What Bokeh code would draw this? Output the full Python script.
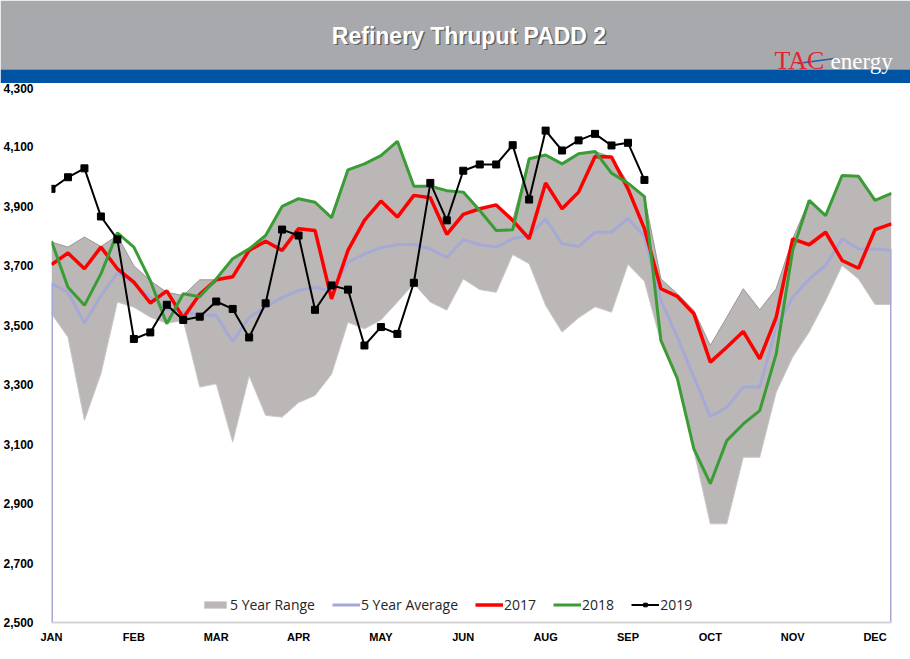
from bokeh.plotting import figure
from bokeh.models import Range1d, FixedTicker, NumeralTickFormatter, Label
from bokeh.layouts import column
from bokeh.embed import file_html
from bokeh.resources import INLINE

# ---------------- data ----------------
weeks = list(range(52))
month_labels = ["JAN", "FEB", "MAR", "APR", "MAY", "JUN", "AUG", "SEP", "OCT", "NOV", "DEC"]
month_ticks = weeks[::5][:11]
y_ticks = list(range(2500, 4301, 200))
Y_MIN, Y_MAX = 2500, 4300

range_upper = [3780, 3763, 3797, 3765, 3802, 3700, 3650, 3611, 3600, 3653,
               3653, 3724, 3757, 3797, 3900, 3926, 3914, 3860, 4020, 4043,
               4071, 4115, 3968, 3968, 3953, 3948, 3892, 3905, 3853, 4060,
               4073, 4043, 4077, 4085, 4066, 3980, 3933, 3656, 3606, 3550,
               3432, 3527, 3623, 3552, 3623, 3791, 3920, 3869, 4004, 4001,
               3920, 3944]
range_lower = [3539, 3460, 3180, 3337, 3578, 3561, 3527, 3507, 3516, 3292,
               3303, 3107, 3330, 3197, 3191, 3240, 3264, 3335, 3510, 3488,
               3518, 3578, 3640, 3578, 3551, 3656, 3620, 3611, 3738, 3707,
               3567, 3477, 3525, 3562, 3544, 3705, 3648, 3443, 3314, 3079,
               2832, 2832, 3056, 3056, 3275, 3393, 3477, 3583, 3701, 3656,
               3570, 3570]
avg_5yr = [3640, 3611, 3507, 3600, 3676, 3640, 3594, 3555, 3544, 3536,
           3533, 3445, 3527, 3561, 3594, 3617, 3628, 3615, 3712, 3740,
           3761, 3772, 3772, 3757, 3728, 3788, 3771, 3763, 3791, 3802,
           3858, 3774, 3765, 3813, 3813, 3860, 3798, 3583, 3460, 3325,
           3193, 3224, 3292, 3292, 3494, 3594, 3656, 3701, 3791, 3757,
           3757, 3752]
y2017 = [3704, 3743, 3690, 3763, 3690, 3645, 3575, 3616, 3525, 3604,
         3653, 3663, 3752, 3783, 3752, 3825, 3819, 3589, 3752, 3853,
         3918, 3864, 3937, 3929, 3806, 3873, 3892, 3905, 3853, 3791,
         3979, 3892, 3948, 4068, 4066, 3959, 3825, 3623, 3597, 3539,
         3376, 3426, 3479, 3387, 3527, 3791, 3771, 3813, 3718, 3692,
         3822, 3841]
y2018 = [3783, 3628, 3567, 3673, 3811, 3763, 3650, 3505, 3606, 3596,
         3656, 3724, 3757, 3802, 3900, 3926, 3914, 3862, 4023, 4043,
         4071, 4119, 3968, 3968, 3953, 3948, 3886, 3819, 3821, 4060,
         4073, 4043, 4077, 4085, 4012, 3978, 3933, 3449, 3320, 3084,
         2967, 3112, 3168, 3213, 3404, 3752, 3920, 3869, 4004, 4001,
         3920, 3944]
y2019 = [3959, 3998, 4028, 3866, 3789, 3454, 3476, 3569, 3518, 3529,
         3580, 3555, 3459, 3574, 3822, 3802, 3552, 3634, 3620, 3432,
         3494, 3471, 3643, 3979, 3853, 4020, 4041, 4041, 4106, 3923,
         4155, 4088, 4122, 4144, 4105, 4114, 3989]

TITLE = "Refinery Thruput PADD 2"

# ---------------- banner ----------------
W = 910
BH = 83
b = figure(width=W, height=BH, x_range=Range1d(0, W), y_range=Range1d(BH, 0),
           toolbar_location=None, output_backend="svg", min_border=0)
try:
    b.frame_align = False
except Exception:
    pass
b.axis.visible = False
b.grid.visible = False
b.outline_line_color = None
b.border_fill_color = "#a8a9ad"
b.quad(left=0, right=W, top=0, bottom=69, fill_color="#a8a9ad", line_color=None)
b.quad(left=0, right=W, top=69, bottom=BH, fill_color="#0054a4", line_color=None)

b.add_layout(Label(x=470, y=36.5, text=TITLE, text_align="center", text_baseline="middle",
                   text_color="#4d4d4d", text_alpha=0.8, text_font="Liberation Sans",
                   text_font_style="bold", text_font_size="23px"))
b.add_layout(Label(x=468.5, y=35, text=TITLE, text_align="center", text_baseline="middle",
                   text_color="white", text_font="Liberation Sans",
                   text_font_style="bold", text_font_size="23px"))
b.add_layout(Label(x=774, y=60, text="TAC", text_align="left", text_baseline="middle",
                   text_color="#e3262d", text_font="Liberation Serif", text_font_size="26px"))
b.add_layout(Label(x=830, y=61, text="energy", text_align="left", text_baseline="middle",
                   text_color="#ffffff", text_font="Liberation Serif", text_font_size="23px"))
b.segment(x0=797, y0=63, x1=834, y1=58, line_color="#1f5fae", line_width=1.5)

# ---------------- main chart ----------------
p = figure(width=W, height=576, x_range=Range1d(weeks[0], weeks[-1]),
           y_range=Range1d(Y_MIN, Y_MAX), toolbar_location=None, output_backend="svg",
           min_border_left=50, min_border_right=19, min_border_top=4, min_border_bottom=37)
p.outline_line_color = None
p.grid.visible = False

p.varea(x=weeks, y1=range_lower, y2=range_upper, fill_color="#bbb7b7",
        legend_label="5 Year Range")
p.line(x=weeks, y=range_upper, line_color="#9a9696", line_width=1)
p.line(x=weeks, y=range_lower, line_color="#c9c6c6", line_width=1)

avg_x = [weeks[0]] + weeks + [weeks[-1]]
avg_y = [Y_MIN] + avg_5yr + [Y_MIN]
p.line(x=avg_x, y=avg_y, line_color="#a6a9d6", line_width=3, legend_label="5 Year Average")
p.line(x=weeks, y=y2017, line_color="#ff0000", line_width=3.5, legend_label="2017")
p.line(x=weeks, y=y2018, line_color="#3a9c35", line_width=3, legend_label="2018")
wk19 = weeks[:len(y2019)]
p.line(x=wk19, y=y2019, line_color="black", line_width=2, legend_label="2019")
p.scatter(x=wk19, y=y2019, marker="square", size=7, fill_color="black",
          line_color="black", legend_label="2019")

xa = p.xaxis[0]
xa.ticker = FixedTicker(ticks=month_ticks)
xa.major_label_overrides = {t: m for t, m in zip(month_ticks, month_labels)}
xa.major_tick_in = 0
xa.major_tick_out = 0
xa.minor_tick_in = 0
xa.minor_tick_out = 0
xa.axis_line_color = "#d4d4d4"
xa.axis_line_width = 2
xa.major_label_standoff = 8
xa.major_label_text_font = "Liberation Sans"
xa.major_label_text_font_style = "bold"
xa.major_label_text_font_size = "11px"
xa.major_label_text_color = "black"

ya = p.yaxis[0]
ya.ticker = FixedTicker(ticks=y_ticks)
ya.formatter = NumeralTickFormatter(format="0,0")
ya.major_tick_in = 0
ya.major_tick_out = 0
ya.minor_tick_in = 0
ya.minor_tick_out = 0
ya.axis_line_color = None
ya.major_label_standoff = 18
ya.major_label_text_font = "Liberation Sans"
ya.major_label_text_font_style = "bold"
ya.major_label_text_font_size = "12px"
ya.major_label_text_color = "black"

lg = p.legend[0]
lg.location = (150, 8)
lg.orientation = "horizontal"
lg.label_text_font = "Open Sans"
lg.label_text_font_size = "14px"
lg.label_text_color = "#262626"
lg.glyph_width = 28
lg.glyph_height = 9
lg.label_height = 20
lg.label_standoff = 1
lg.spacing = 17
lg.padding = 0
lg.margin = 0
lg.border_line_color = None
lg.background_fill_alpha = 0

layout = column(b, p, spacing=0)
open("out.html", "w").write(file_html(layout, INLINE))
